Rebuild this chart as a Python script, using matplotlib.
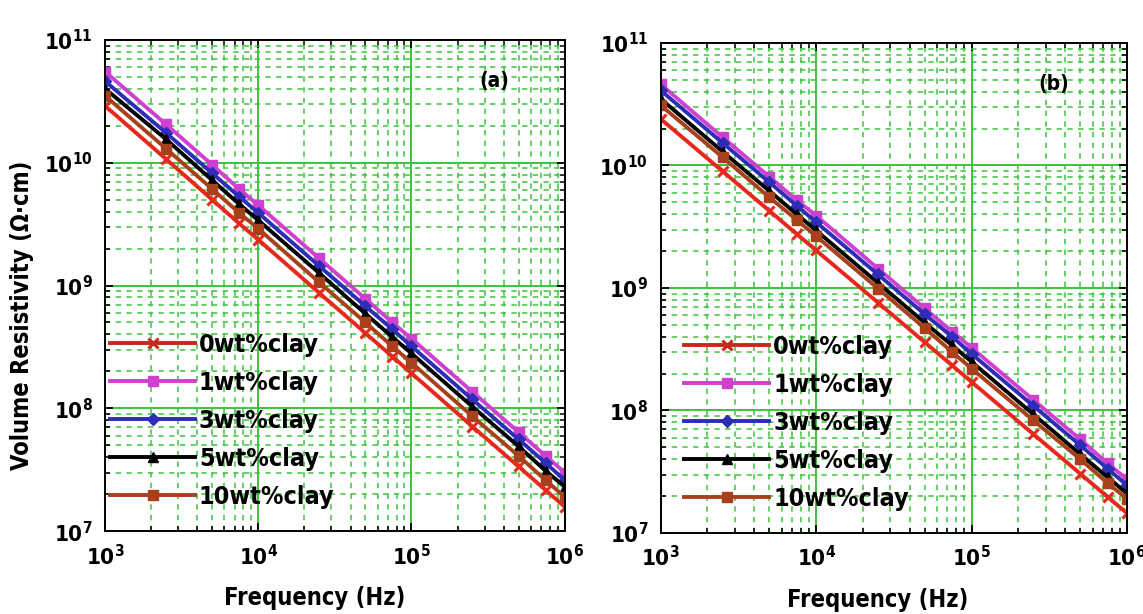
import numpy as np
import matplotlib

matplotlib.use("Agg")
import matplotlib.pyplot as plt
from matplotlib.ticker import LogLocator, FuncFormatter, NullFormatter

plt.rcParams["font.family"] = ["DejaVu Sans", "Liberation Sans"]
plt.rcParams["font.stretch"] = "condensed"
plt.rcParams["font.weight"] = "bold"
plt.rcParams["mathtext.fontset"] = "custom"
plt.rcParams["mathtext.rm"] = "DejaVu Sans:stretch=condensed"
plt.rcParams["mathtext.bf"] = "DejaVu Sans:bold:stretch=condensed"

# Frequency sweep (Hz)
freq = [1e3, 2.5e3, 5e3, 7.5e3, 1e4, 2.5e4, 5e4, 7.5e4, 1e5, 2.5e5, 5e5, 7.5e5, 1e6]

labels = ["0wt%clay", "1wt%clay", "3wt%clay", "5wt%clay", "10wt%clay"]

# Volume resistivity (ohm.cm), panel (a)
rho_a_0 = [2.9e10, 1.07e10, 5.0e9, 3.2e9, 2.36e9, 8.7e8, 4.1e8, 2.64e8, 1.93e8, 7.1e7, 3.36e7, 2.16e7, 1.58e7]
rho_a_1 = [5.5e10, 2.05e10, 9.6e9, 6.1e9, 4.5e9, 1.66e9, 7.8e8, 5.0e8, 3.7e8, 1.36e8, 6.4e7, 4.1e7, 3.0e7]
rho_a_3 = [4.6e10, 1.75e10, 8.2e9, 5.3e9, 3.9e9, 1.44e9, 6.8e8, 4.4e8, 3.2e8, 1.18e8, 5.6e7, 3.6e7, 2.6e7]
rho_a_5 = [4.0e10, 1.55e10, 7.2e9, 4.6e9, 3.4e9, 1.26e9, 5.9e8, 3.8e8, 2.8e8, 1.03e8, 4.9e7, 3.1e7, 2.3e7]
rho_a_10 = [3.5e10, 1.3e10, 6.1e9, 3.9e9, 2.9e9, 1.06e9, 5.0e8, 3.2e8, 2.35e8, 8.6e7, 4.1e7, 2.6e7, 1.9e7]

# Volume resistivity (ohm.cm), panel (b)
rho_b_0 = [2.4e10, 8.97e9, 4.27e9, 2.76e9, 2.03e9, 7.6e8, 3.6e8, 2.33e8, 1.71e8, 6.4e7, 3.05e7, 1.97e7, 1.45e7]
rho_b_1 = [4.6e10, 1.7e10, 8.1e9, 5.2e9, 3.9e9, 1.44e9, 6.8e8, 4.4e8, 3.25e8, 1.22e8, 5.8e7, 3.7e7, 2.75e7]
rho_b_3 = [4.1e10, 1.53e10, 7.3e9, 4.7e9, 3.45e9, 1.29e9, 6.1e8, 4.0e8, 2.9e8, 1.09e8, 5.2e7, 3.35e7, 2.45e7]
rho_b_5 = [3.5e10, 1.3e10, 6.2e9, 4.0e9, 2.95e9, 1.1e9, 5.2e8, 3.4e8, 2.5e8, 9.3e7, 4.4e7, 2.85e7, 2.1e7]
rho_b_10 = [3.1e10, 1.17e10, 5.5e9, 3.6e9, 2.65e9, 9.9e8, 4.7e8, 3.0e8, 2.2e8, 8.3e7, 4.0e7, 2.55e7, 1.9e7]

styles = [
    dict(color="#e8281c", marker="x", ms=7, mew=2.2),
    dict(color="#d040d0", marker="s", ms=6.5),
    dict(color="#2d2db8", marker="D", ms=6.5),
    dict(color="#000000", marker="^", ms=6.5),
    dict(color="#a8401c", marker="s", ms=7),
]
legend_line_colors = ["#c42a1c", "#d040d0", "#2d2db8", "#000000", "#a8401c"]

grid_green = "#3cc43c"


def pow_fmt(v, pos):
    return r"$\mathbf{10^{%d}}$" % int(round(np.log10(v)))


def draw_panel(ax, series, tag, tag_x, leg_x, xlab_x):
    for ys, lab, st in zip(series, labels, styles):
        ax.plot(freq, ys, lw=2.8, label=lab, **st)
    ax.set_xscale("log")
    ax.set_yscale("log")
    ax.set_xlim(1e3, 1e6)
    ax.set_ylim(1e7, 1e11)
    ax.xaxis.set_major_locator(LogLocator(base=10, numticks=10))
    ax.yaxis.set_major_locator(LogLocator(base=10, numticks=10))
    ax.xaxis.set_minor_locator(LogLocator(base=10, subs=np.arange(2, 10), numticks=20))
    ax.yaxis.set_minor_locator(LogLocator(base=10, subs=np.arange(2, 10), numticks=20))
    ax.xaxis.set_major_formatter(FuncFormatter(pow_fmt))
    ax.yaxis.set_major_formatter(FuncFormatter(pow_fmt))
    ax.xaxis.set_minor_formatter(NullFormatter())
    ax.yaxis.set_minor_formatter(NullFormatter())
    ax.grid(True, which="major", color=grid_green, lw=1.4, ls="-")
    ax.grid(True, which="minor", color=grid_green, lw=1.1, ls=(0, (3.5, 3.5)))
    ax.set_axisbelow(True)
    ax.tick_params(which="both", direction="in", top=True, right=True, labelsize=16)
    ax.tick_params(which="major", length=6, width=1.3, pad=9)
    ax.tick_params(which="minor", length=3.5, width=1.1)
    for sp in ax.spines.values():
        sp.set_linewidth(1.4)
    ax.set_xlabel("Frequency (Hz)", fontsize=17, fontweight="bold")
    ax.xaxis.set_label_coords(xlab_x, -0.112)
    ax.text(tag_x, 0.905, tag, transform=ax.transAxes, fontsize=15, fontweight="bold")
    leg = ax.legend(loc="lower left", bbox_to_anchor=(leg_x, 0.035), frameon=False,
                    fontsize=18, handlelength=3.4, handletextpad=0.15,
                    labelspacing=0.56, borderaxespad=0.0, borderpad=0.2)
    for h, c in zip(leg.legend_handles, legend_line_colors):
        h.set_color(c)
    for t in leg.get_texts():
        t.set_fontweight("bold")


fig = plt.figure(figsize=(11.43, 6.14), dpi=100)
ax_a = fig.add_axes([0.092, 0.135, 0.402, 0.800])
ax_b = fig.add_axes([0.578, 0.132, 0.408, 0.798])

draw_panel(ax_a, [rho_a_0, rho_a_1, rho_a_3, rho_a_5, rho_a_10], "(a)", 0.815, 0.0, 0.457)
draw_panel(ax_b, [rho_b_0, rho_b_1, rho_b_3, rho_b_5, rho_b_10], "(b)", 0.81, 0.04, 0.466)
ax_a.set_ylabel("Volume Resistivity (\u03a9\u00b7cm)", fontsize=17, fontweight="bold")
ax_a.yaxis.set_label_coords(-0.155, 0.44)

fig.savefig("out.png", dpi=100)
